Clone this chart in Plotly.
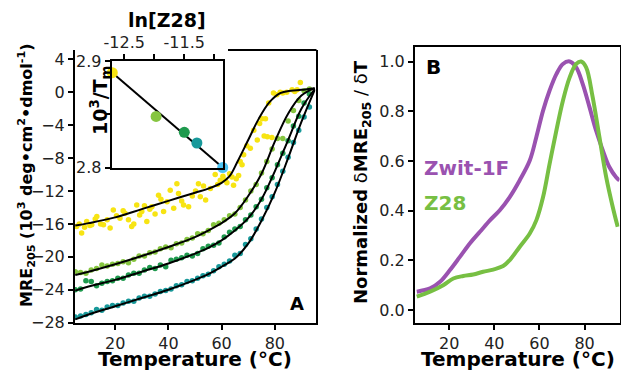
import plotly.graph_objects as go

W, H = 621, 371

# ---------------- Panel A data ----------------
fit_T = [5, 10, 20, 30, 40, 50, 55, 60, 63, 66, 70, 74, 78, 82, 86, 90, 95]
fit_yellow = [-16.2, -15.9, -15.2, -14.2, -13.2, -12.2, -11.7, -11.0, -10.2, -8.4, -5.8, -3.2, -1.2, -0.1, 0.2, 0.3, 0.5]

fit2_T = [5, 10, 20, 30, 40, 50, 55, 60, 65, 70, 75, 80, 85, 90, 95]
fit_lgreen = [-22.2, -21.8, -20.9, -19.9, -18.8, -17.6, -16.8, -15.9, -14.7, -12.6, -9.9, -6.0, -2.6, -0.4, 0.5]
fit_dgreen = [-24.1, -23.6, -22.8, -21.8, -20.8, -19.6, -18.9, -18.0, -16.8, -15.3, -13.0, -9.6, -5.8, -2.0, 0.4]
fit_teal = [-27.6, -27.0, -26.0, -25.0, -24.0, -22.8, -22.1, -21.2, -20.2, -18.4, -15.6, -12.2, -8.0, -3.6, 0.3]

yel_T = [5.5, 6.5, 7.4, 8.5, 9.3, 10.5, 11.2, 12.5, 13.1, 14.5, 15.6, 17.0, 18.1, 19.3, 20.5, 21.8, 23.0,
         23.7, 25.0, 26.2, 27.0, 28.1, 29.2, 30.0, 31.0, 31.9, 33.0, 33.8, 35.0, 36.3, 37.2, 38.2, 39.5,
         40.7, 42.0, 43.2, 43.8, 45.0, 45.7, 47.6, 49.0, 50.2, 51.3, 52.0, 53.2, 54.0, 55.8, 57.6, 58.5,
         59.5, 60.5, 61.4, 62.0, 63.0, 63.9, 64.5, 65.5, 66.4, 67.0, 67.7, 68.3, 69.5, 70.8, 72.1, 73.4,
         74.3, 75.2, 76.0, 76.5, 77.2, 77.7, 78.9, 79.5, 80.8, 82.0, 83.0, 84.5, 86.5, 87.5, 88.4, 89.6]
yel_y = [-16.3, -16.0, -17.1, -16.4, -15.7, -16.2, -16.1, -15.4, -15.1, -16.0, -16.1, -15.5, -16.5, -14.3,
         -15.0, -15.3, -14.4, -14.7, -15.5, -16.3, -16.0, -13.7, -14.9, -14.5, -13.8, -15.7, -14.2, -13.9,
         -14.8, -12.5, -13.0, -14.5, -13.3, -11.9, -14.1, -11.1, -12.3, -13.2, -13.7, -13.9, -12.6, -12.0,
         -11.1, -12.7, -11.4, -13.1, -11.7, -10.0, -11.2, -10.7, -10.2, -10.7, -11.0, -9.9, -10.3, -11.3,
         -10.5, -10.1, -8.4, -8.8, -7.6, -6.5, -6.8, -4.6, -5.8, -3.8, -3.2, -5.3, -3.2, -5.4, -1.3, -5.5,
         -0.1, -0.3, 0.0, -0.1, 0.0, 0.3, 0.1, 0.3, 1.2]

pts_T = [5, 7, 9, 11, 13, 15, 17, 19, 21, 23, 25, 27, 29, 31, 33, 35, 37, 39, 41, 43, 45, 47, 49, 51, 53,
         55, 57, 59, 61, 63, 65, 67, 69, 71, 73, 75, 77, 79, 81, 83, 85, 87, 89, 91, 93]
lg_y = [-21.8, -21.9, -22.0, -21.6, -21.4, -21.0, -21.1, -20.9, -20.8, -20.6, -20.7, -20.3, -19.9, -19.9,
        -19.5, -19.4, -19.0, -18.8, -18.9, -18.4, -18.3, -17.9, -17.7, -17.2, -17.2, -16.8, -16.1, -15.9,
        -15.5, -15.0, -14.8, -14.0, -13.1, -12.0, -11.2, -9.8, -8.4, -6.9, -5.6, -5.6, -3.5, -2.2, -1.0,
        0.2, 0.4]
dg_y = [-24.0, -23.9, -22.9, -23.0, -23.5, -23.2, -23.0, -22.9, -22.6, -22.6, -22.2, -22.0, -22.0, -21.6,
        -21.3, -21.4, -21.0, -21.2, -20.4, -20.3, -20.1, -19.8, -19.9, -19.6, -19.0, -18.7, -18.6, -18.3,
        -17.6, -17.0, -16.6, -16.3, -15.5, -14.9, -13.9, -13.0, -11.6, -10.4, -8.8, -7.4, -5.9, -4.1,
        -2.9, -1.3, -0.2]
teal_y = [-27.3, -27.2, -27.0, -26.8, -26.4, -26.5, -26.1, -25.9, -25.9, -25.6, -25.4, -25.4, -25.0, -24.8,
          -24.8, -24.5, -24.2, -24.1, -23.9, -23.5, -23.4, -23.0, -22.9, -22.6, -22.3, -22.1, -21.7, -21.2,
          -20.9, -20.5, -19.8, -19.6, -18.5, -17.8, -16.6, -15.4, -14.0, -12.7, -11.2, -9.6, -7.9, -6.1,
          -4.6, -3.0, -1.8]

# inset
ln_conc = [-12.70, -11.97, -11.50, -11.29, -10.86]
inv_tm = [2.889, 2.848, 2.833, 2.823, 2.800]
inset_fit_x = [-12.70, -10.86]
inset_fit_y = [2.889, 2.800]

# ---------------- Panel B data ----------------
zw_T = [5.6, 11.5, 15.9, 20.3, 24.7, 29.1, 33.6, 38.0, 42.4, 46.8, 51.2, 55.7, 58.6, 61.6, 64.5, 67.5,
        70.4, 73.4, 76.3, 79.2, 82.2, 85.1, 88.1, 91.0, 94.0, 95.5]
zw_y = [0.074, 0.087, 0.114, 0.161, 0.214, 0.268, 0.315, 0.361, 0.402, 0.455, 0.522, 0.602, 0.696, 0.803,
        0.884, 0.950, 0.991, 1.001, 0.977, 0.910, 0.817, 0.723, 0.643, 0.576, 0.535, 0.522]
z28_T = [5.6, 11.5, 17.3, 21.8, 26.2, 30.6, 35.0, 39.5, 43.9, 46.8, 51.2, 55.7, 58.6, 61.6, 64.5, 67.5,
         70.4, 73.4, 76.3, 78.5, 80.7, 83.6, 86.6, 89.6, 92.5, 94.7]
z28_y = [0.054, 0.074, 0.100, 0.127, 0.137, 0.143, 0.154, 0.163, 0.177, 0.201, 0.254, 0.308, 0.361, 0.455,
         0.589, 0.723, 0.843, 0.937, 0.991, 1.001, 0.977, 0.857, 0.696, 0.535, 0.415, 0.335]

YELLOW = "#f7e413"
LGREEN = "#86c540"
DGREEN = "#1f9a4e"
TEAL = "#18999a"
CYAN = "#4cc3f2"
PURPLE = "#9a52b0"
GREEN = "#77bf43"
FONT = "DejaVu Sans, sans-serif"


def px(x):
    return x / W


def py(y):
    return 1 - y / H


fig = go.Figure()

# Panel A scatter + fits
for xs, ys, c in [(yel_T, yel_y, YELLOW), (pts_T, lg_y, LGREEN), (pts_T, dg_y, DGREEN), (pts_T, teal_y, TEAL)]:
    fig.add_trace(go.Scatter(x=xs, y=ys, mode="markers", marker=dict(color=c, size=5.5),
                             xaxis="x", yaxis="y", showlegend=False, cliponaxis=True))
for xs, ys in [(fit_T, fit_yellow), (fit2_T, fit_lgreen), (fit2_T, fit_dgreen), (fit2_T, fit_teal)]:
    fig.add_trace(go.Scatter(x=xs, y=ys, mode="lines", line=dict(color="black", width=2, shape="spline"),
                             xaxis="x", yaxis="y", showlegend=False))

# Inset
fig.add_trace(go.Scatter(x=inset_fit_x, y=inset_fit_y, mode="lines", line=dict(color="black", width=2),
                         xaxis="x3", yaxis="y3", showlegend=False))
fig.add_trace(go.Scatter(x=ln_conc, y=inv_tm, mode="markers",
                         marker=dict(color=[YELLOW, LGREEN, DGREEN, TEAL, CYAN], size=11),
                         xaxis="x3", yaxis="y3", showlegend=False, cliponaxis=False))

# Panel B
fig.add_trace(go.Scatter(x=zw_T, y=zw_y, mode="lines", line=dict(color=PURPLE, width=4, shape="spline"),
                         xaxis="x2", yaxis="y2", showlegend=False))
fig.add_trace(go.Scatter(x=z28_T, y=z28_y, mode="lines", line=dict(color=GREEN, width=4, shape="spline"),
                         xaxis="x2", yaxis="y2", showlegend=False))

tickfont = dict(family=FONT, size=16, color="#222")
common = dict(showgrid=False, zeroline=False, showline=True, linecolor="black", linewidth=2,
              ticks="outside", ticklen=5, tickwidth=1.5, tickcolor="black", tickfont=tickfont,
              automargin=False)

fig.update_layout(
    width=W, height=H, autosize=False,
    margin=dict(l=0, r=0, t=0, b=0, pad=0),
    paper_bgcolor="white", plot_bgcolor="white",
    font=dict(family=FONT),
    xaxis=dict(domain=[px(75), px(315.5)], range=[4.9, 95.3], tickvals=[20, 40, 60, 80],
               anchor="y", **common),
    yaxis=dict(domain=[py(322.7), py(50)], range=[-28, 5.14], tickvals=list(range(-28, 5, 4)),
               anchor="x", mirror=True, **common),
    xaxis2=dict(domain=[px(415), px(619.5)], range=[4.8, 95.5], tickvals=[20, 40, 60, 80],
                anchor="y2", mirror=True, **common),
    yaxis2=dict(domain=[py(322.7), py(47.3)], range=[-0.051, 1.058], tickvals=[0, 0.2, 0.4, 0.6, 0.8, 1.0],
                tickformat=".1f", anchor="x2", mirror=True, **common),
    xaxis3=dict(domain=[px(111.7), px(223.3)], range=[-12.71, -10.85], side="top",
                tickvals=[-12.5, -12, -11.5, -11], ticktext=["-12.5", " ", "-11.5", " "],
                anchor="y3", mirror=True, **common),
    yaxis3=dict(domain=[py(167.5), py(61)], range=[2.8, 2.9], tickvals=[2.8, 2.85, 2.9],
                ticktext=["2.8", " ", "2.9"], anchor="x3", mirror=True, **common),
    shapes=[dict(type="line", xref="paper", yref="paper", x0=px(228), x1=px(316.5), y0=py(50), y1=py(50),
                 line=dict(color="black", width=2))],
)

ann = []


def A(text, x, y, size, color="black", angle=0, xanchor="center", yanchor="middle"):
    ann.append(dict(text=text, x=px(x), y=py(y), xref="paper", yref="paper", showarrow=False,
                    font=dict(family=FONT, size=size, color=color), textangle=angle,
                    xanchor=xanchor, yanchor=yanchor))


A("<b>ln[Z28]</b>", 167, 20, 19)
A("<b>10<sup>3</sup>/T<sub>m</sub></b>", 101, 101, 19, angle=-90)
A("<b>MRE<sub>205</sub> (10<sup>3</sup> deg•cm<sup>2</sup>•dmol<sup>-1</sup>)</b>", 26, 175, 16, angle=-90)
A("<b>Temperature (°C)</b>", 195, 359, 20)
A("<b>A</b>", 297, 303, 18)
A("<b>B</b>", 433, 67, 20)
A("<b>Zwit-1F</b>", 422, 168, 20, color=PURPLE, xanchor="left")
A("<b>Z28</b>", 422, 203, 20, color=GREEN, xanchor="left")
A("<b>Normalized</b> δ<b>MRE<sub>205</sub></b> / δ<b>T</b>", 362, 182, 18, angle=-90)
A("<b>Temperature (°C)</b>", 518, 359, 20)

fig.update_layout(annotations=ann)

fig.write_html("out.html", config={"displayModeBar": False},
               post_script="document.body.style.margin='0';document.body.style.overflow='hidden';")
